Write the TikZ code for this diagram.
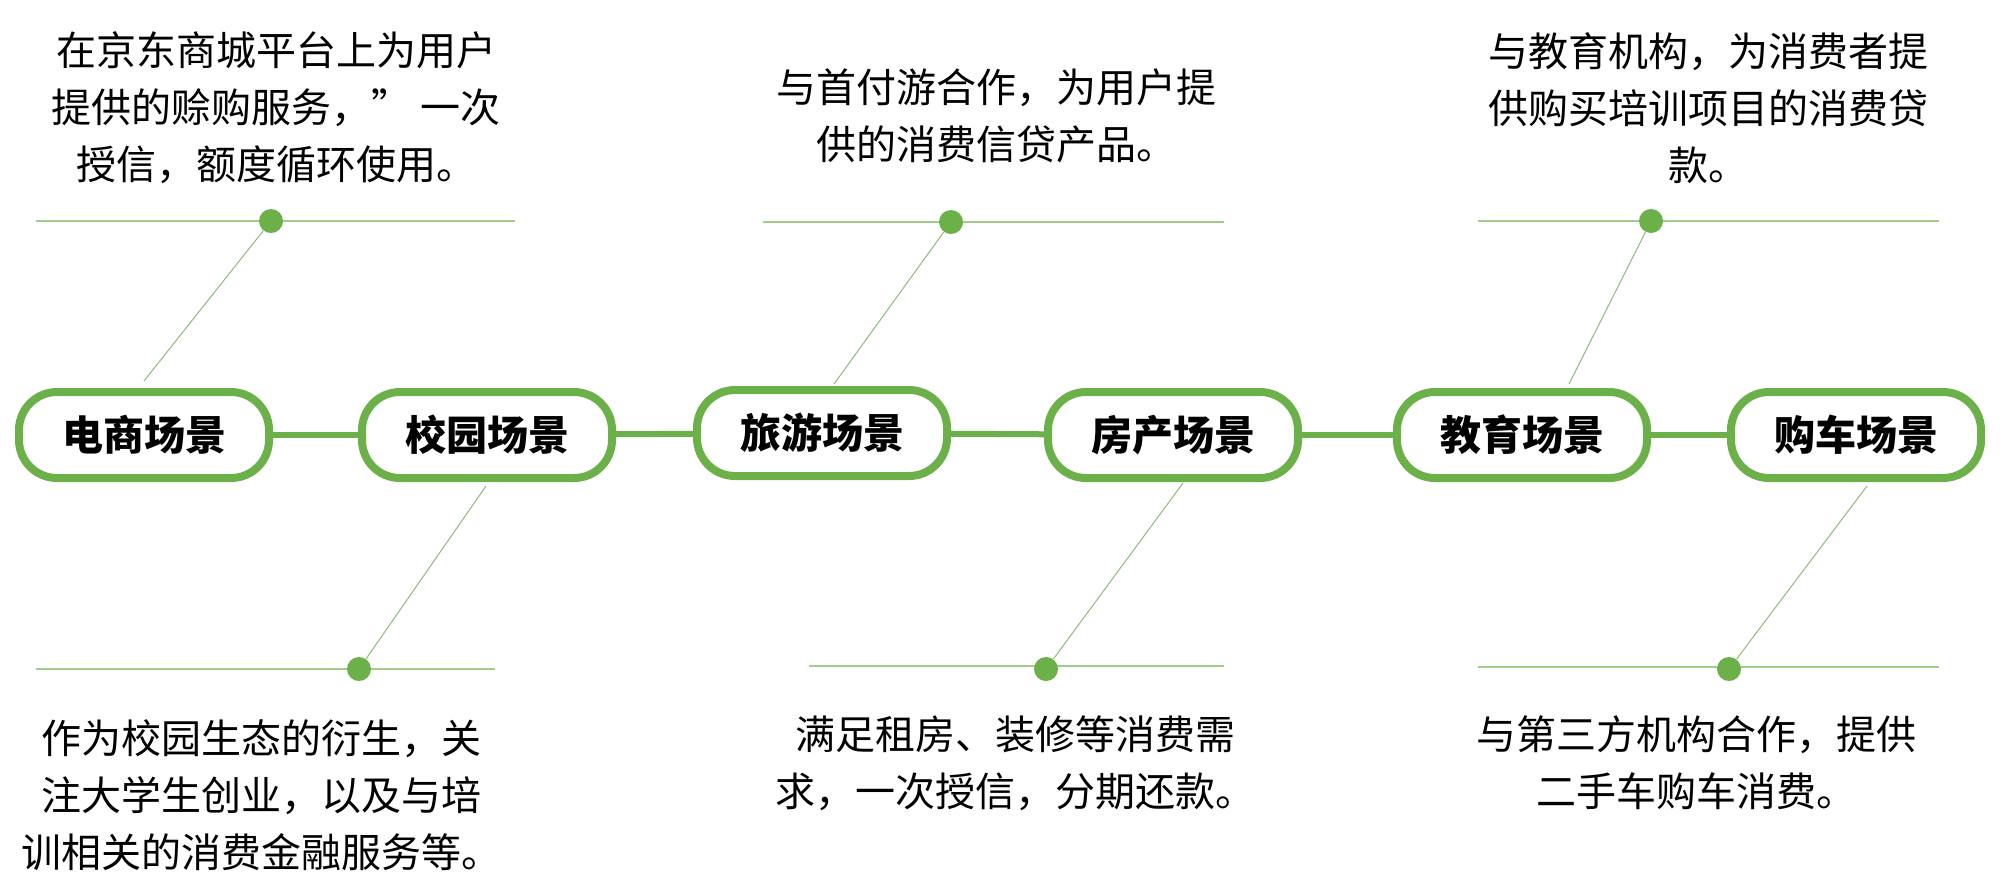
\documentclass[tikz,border=0pt]{standalone}
\usepackage{fontspec}
\setmainfont{Noto Sans CJK SC}
\newfontfamily\heavycjk{Noto Sans CJK SC Black}
\usepackage{tikz}
\usetikzlibrary{positioning,calc}
\definecolor{sceneGreen}{RGB}{108, 176, 74}
\definecolor{lineGreen}{RGB}{160, 205, 140}

\begin{document}
\begin{tikzpicture}[x=0.5pt,y=-0.5pt,
    scenebox/.style={draw=sceneGreen,line width=4pt,fill=white,rounded corners=19pt,
                     minimum width=125pt,minimum height=43pt,inner sep=0pt,
                     font=\fontsize{20.5}{24}\selectfont\heavycjk},
    desc/.style={align=center,inner sep=0pt,font=\fontsize{20}{28.5}\selectfont},
    dot/.style={circle,fill=sceneGreen,inner sep=0pt,minimum size=12pt},
    link/.style={draw=sceneGreen,line width=3pt},
    rule/.style={draw=lineGreen,line width=0.8pt},
    spoke/.style={draw=lineGreen!90!black,line width=0.5pt}]
    \useasboundingbox (0,0) rectangle (2005,890);

    % scenes along the main line
    \node[scenebox] (dianshang) at (144,435) {电商场景};
    \node[scenebox] (xiaoyuan) at (487,435) {校园场景};
    \node[scenebox] (lvyou) at (822,433) {旅游场景};
    \node[scenebox] (fangchan) at (1173,435) {房产场景};
    \node[scenebox] (jiaoyu) at (1522,435) {教育场景};
    \node[scenebox] (gouche) at (1856,435) {购车场景};
    \draw[link] (dianshang) -- (xiaoyuan);
    \draw[link] (xiaoyuan) -- (lvyou);
    \draw[link] (lvyou) -- (fangchan);
    \draw[link] (fangchan) -- (jiaoyu);
    \draw[link] (jiaoyu) -- (gouche);

    % upper notes
    \coordinate (ruleA1) at (36,221);   \coordinate (ruleA2) at (515,221);
    \coordinate (ruleC1) at (763,222);  \coordinate (ruleC2) at (1224,222);
    \coordinate (ruleE1) at (1478,221); \coordinate (ruleE2) at (1939,221);
    \draw[rule] (ruleA1) -- (ruleA2);
    \draw[rule] (ruleC1) -- (ruleC2);
    \draw[rule] (ruleE1) -- (ruleE2);
    \coordinate (endA) at (144,381);
    \coordinate (endC) at (834,384);
    \coordinate (endE) at (1569,384);
    \node[dot] (dotA) at (271,221) {};
    \node[dot] (dotC) at (951,222) {};
    \node[dot] (dotE) at (1651,221) {};
    \draw[spoke] (dotA) -- (endA);
    \draw[spoke] (dotC) -- (endC);
    \draw[spoke] (dotE) -- (endE);
    \node[desc] (noteA) at (276,108) {在京东商城平台上为用户\\提供的赊购服务，”\ 一次\\授信，额度循环使用。};
    \node[desc] (noteC) at (996,116) {与首付游合作，为用户提\\供的消费信贷产品。};
    \node[desc] (noteE) at (1708,108) {与教育机构，为消费者提\\供购买培训项目的消费贷\\款。};

    % lower notes
    \coordinate (ruleB1) at (36,669);   \coordinate (ruleB2) at (495,669);
    \coordinate (ruleD1) at (809,666);  \coordinate (ruleD2) at (1224,666);
    \coordinate (ruleF1) at (1478,667); \coordinate (ruleF2) at (1939,667);
    \draw[rule] (ruleB1) -- (ruleB2);
    \draw[rule] (ruleD1) -- (ruleD2);
    \draw[rule] (ruleF1) -- (ruleF2);
    \coordinate (startB) at (486,486);
    \coordinate (startD) at (1183,483);
    \coordinate (startF) at (1867,486);
    \node[dot] (dotB) at (359,669) {};
    \node[dot] (dotD) at (1046,669) {};
    \node[dot] (dotF) at (1729,669) {};
    \draw[spoke] (startB) -- (dotB);
    \draw[spoke] (startD) -- (dotD);
    \draw[spoke] (startF) -- (dotF);
    \node[desc] (noteB) at (261,795) {作为校园生态的衍生，关\\注大学生创业，以及与培\\训相关的消费金融服务等。};
    \node[desc] (noteD) at (1015,763) {满足租房、装修等消费需\\求，一次授信，分期还款。};
    \node[desc] (noteF) at (1696,763) {与第三方机构合作，提供\\二手车购车消费。};
\end{tikzpicture}
\end{document}
